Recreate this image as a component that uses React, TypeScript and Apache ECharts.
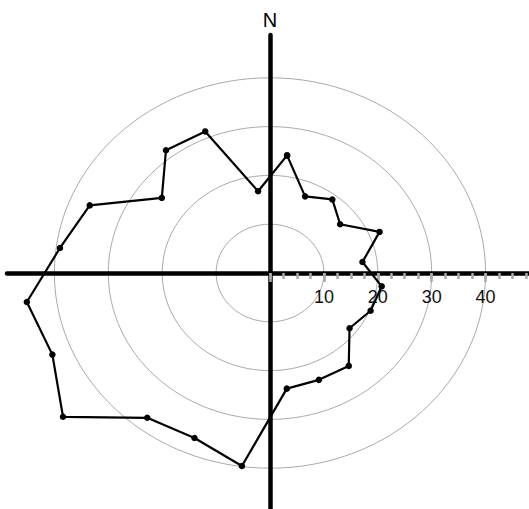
import React, { useEffect, useRef } from "react";
import * as echarts from "echarts";

// Bearings (degrees clockwise from North) and radial values
const bearings = [
  7.5, 22.5, 37.5, 52.5, 67.5, 82.5, 97.5, 112.5, 127.5, 142.5, 157.5, 172.5,
  187.5, 202.5, 217.5, 232.5, 247.5, 262.5, 277.5, 292.5, 307.5, 322.5, 337.5, 352.5,
];
const radii = [
  24.3, 17.0, 19.0, 16.4, 22.0, 17.3, 20.9, 20.2, 18.6, 24.0, 23.7, 23.9,
  39.9, 36.6, 37.4, 48.4, 43.7, 45.5, 39.3, 36.2, 25.3, 31.7, 31.4, 16.9,
];
const rings = [10, 20, 30, 40];
const tickLabels = [10, 20, 30, 40];
const northLabel = "N";

const FONT = "Liberation Sans";

export default function App() {
  const ref = useRef<HTMLDivElement>(null);

  useEffect(() => {
    if (!ref.current) return;
    const chart = echarts.init(ref.current, null, { renderer: "svg" });

    const pts = bearings.map((b, i) => {
      const a = (b * Math.PI) / 180;
      return [radii[i] * Math.sin(a), radii[i] * Math.cos(a)];
    });
    pts.push(pts[0]);

    const hidden = {
      axisLine: { show: false },
      axisTick: { show: false },
      axisLabel: { show: false },
      splitLine: { show: false },
    };

    const option: any = {
      animation: false,
      backgroundColor: "#fff",
      grid: [
        // main plot: centre at (270, 273), 5.39 px/unit horizontally, 4.88 px/unit vertically
        { left: 7, right: 0, top: 35, bottom: 0, containLabel: false },
        // minor ticks (0 .. 47.5)
        { left: 270, width: 256, top: 35, height: 238, containLabel: false },
        // major ticks + labels (0 .. 40)
        { left: 270, width: 215.6, top: 35, height: 238, containLabel: false },
      ],
      xAxis: [
        {
          type: "value",
          gridIndex: 0,
          min: -48.79,
          max: 48.05,
          z: 1,
          axisLine: { show: true, onZero: true, lineStyle: { color: "#000", width: 4.5 } },
          axisTick: { show: false },
          axisLabel: { show: false },
          splitLine: { show: false },
        },
        {
          type: "value",
          gridIndex: 1,
          min: 0,
          max: 47.5,
          interval: 2.5,
          position: "bottom",
          z: 1,
          axisLine: { show: false },
          axisTick: { show: true, length: 6, lineStyle: { color: "#aaa", width: 2.5 } },
          axisLabel: { show: false },
          splitLine: { show: false },
        },
        {
          type: "value",
          gridIndex: 2,
          min: 0,
          max: 40,
          interval: 10,
          position: "bottom",
          z: 1,
          axisLine: { show: false },
          axisTick: { show: true, length: 9, lineStyle: { color: "#aaa", width: 2.5 } },
          axisLabel: {
            show: true,
            margin: 15,
            fontSize: 18,
            color: "#111",
            fontFamily: FONT,
            formatter: (v: number) => (tickLabels.indexOf(v) >= 0 ? String(v) : ""),
          },
          splitLine: { show: false },
        },
      ],
      yAxis: [
        {
          type: "value",
          gridIndex: 0,
          min: -48.36,
          max: 48.77,
          z: 1,
          axisLine: { show: true, onZero: true, lineStyle: { color: "#000", width: 4.5 } },
          axisTick: { show: false },
          axisLabel: { show: false },
          splitLine: { show: false },
        },
        { type: "value", gridIndex: 1, min: 0, max: 10, ...hidden },
        { type: "value", gridIndex: 2, min: 0, max: 10, ...hidden },
      ],
      graphic: [
        {
          type: "text",
          x: 270,
          y: 20,
          style: {
            text: northLabel,
            fontSize: 20,
            fontFamily: FONT,
            fill: "#000",
            align: "center",
            verticalAlign: "middle",
          },
        },
      ],
      series: [
        {
          type: "custom",
          xAxisIndex: 0,
          yAxisIndex: 0,
          z: 0,
          silent: true,
          clip: false,
          data: rings.map((r) => [r, 0]),
          renderItem: (params: any, api: any) => {
            const r = api.value(0);
            const c = api.coord([0, 0]);
            const s = api.size([r, r]);
            return {
              type: "ellipse",
              shape: { cx: c[0], cy: c[1], rx: s[0], ry: s[1] },
              style: { fill: "none", stroke: "#aaa", lineWidth: 1 },
            };
          },
        },
        {
          type: "line",
          xAxisIndex: 0,
          yAxisIndex: 0,
          z: 2,
          data: pts,
          symbol: "circle",
          symbolSize: 6.5,
          itemStyle: { color: "#000" },
          lineStyle: { color: "#000", width: 2.2 },
          silent: true,
        },
      ],
    };

    chart.setOption(option);
    return () => chart.dispose();
  }, []);

  return (
    <div
      ref={ref}
      style={{ position: "fixed", left: 0, top: 0, width: 529, height: 509 }}
    />
  );
}
